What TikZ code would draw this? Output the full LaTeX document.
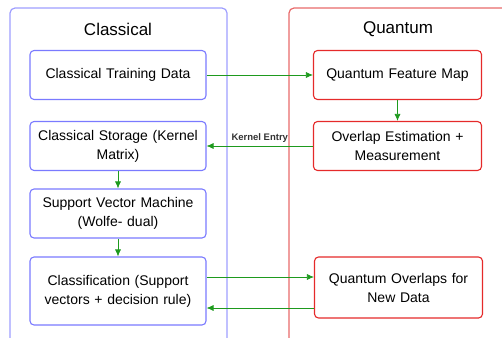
\documentclass[tikz,border=0pt]{standalone}
\usepackage{fontspec}
\setmainfont{Liberation Sans}
\usetikzlibrary{arrows.meta}

\definecolor{lanec}{HTML}{9E9EFF}
\definecolor{laneq}{HTML}{E86A6A}
\definecolor{boxc}{HTML}{7A7AFF}
\definecolor{boxq}{HTML}{E52A2A}
\definecolor{flow}{HTML}{1E9A1E}
\definecolor{flowline}{HTML}{6CC46C}

\begin{document}
\begin{tikzpicture}[x=1pt, y=-1pt,
  cbox/.style={draw=boxc, rounded corners=4, line width=1.1pt, minimum width=176, text width=168, align=center, font=\fontsize{14}{19}\selectfont},
  qbox/.style={draw=boxq, rounded corners=4, line width=1.1pt, minimum width=168, text width=160, align=center, font=\fontsize{14}{19}\selectfont},
  flowarrow/.style={-{Latex[length=7pt, width=6pt]}, draw=flowline, line width=0.7pt, color=flow}]

  \useasboundingbox (0,0) rectangle (502,337);

  % lanes
  \draw[lanec, line width=1.2pt, rounded corners=5] (10,345) -- (10,8) -- (227,8) -- (227,345);
  \draw[laneq, line width=1.2pt, rounded corners=5] (289,345) -- (289,8) -- (515,8);
  \node[font=\fontsize{17}{20}\selectfont] (ctitle) at (118,29) {Classical};
  \node[font=\fontsize{17}{20}\selectfont] (qtitle) at (398,29) {Quantum};

  % classical side
  \node[cbox, minimum height=49] (data) at (118,75) {Classical Training Data};
  \node[cbox, minimum height=49] (store) at (118,146) {Classical Storage (Kernel\\Matrix)};
  \node[cbox, minimum height=49] (svm) at (118,213.5) {Support Vector Machine\\(Wolfe- dual)};
  \node[cbox, minimum height=68] (classify) at (118,291) {Classification (Support\\vectors + decision rule)};

  % quantum side
  \node[qbox, minimum height=49] (fmap) at (397.5,75) {Quantum Feature Map};
  \node[qbox, minimum height=49] (overlap) at (397.5,146) {Overlap Estimation +\\Measurement};
  \node[qbox, minimum height=61] (newdata) at (398.5,287.5) {Quantum Overlaps for\\New Data};

  % connectors
  \draw[flowarrow] (data) -- (fmap);
  \draw[flowarrow] (fmap) -- (overlap);
  \draw[flowarrow] (overlap) -- node[above, black!80, font=\bfseries\fontsize{9.5}{11}\selectfont] {Kernel Entry} (store);
  \draw[flowarrow] (store) -- (svm);
  \draw[flowarrow] (svm) -- (classify);
  \draw[flowarrow] ([yshift=14]classify.east) -- ([yshift=10.5]newdata.west);
  \draw[flowarrow] ([yshift=-20.5]newdata.west) -- ([yshift=-17]classify.east);

\end{tikzpicture}
\end{document}
